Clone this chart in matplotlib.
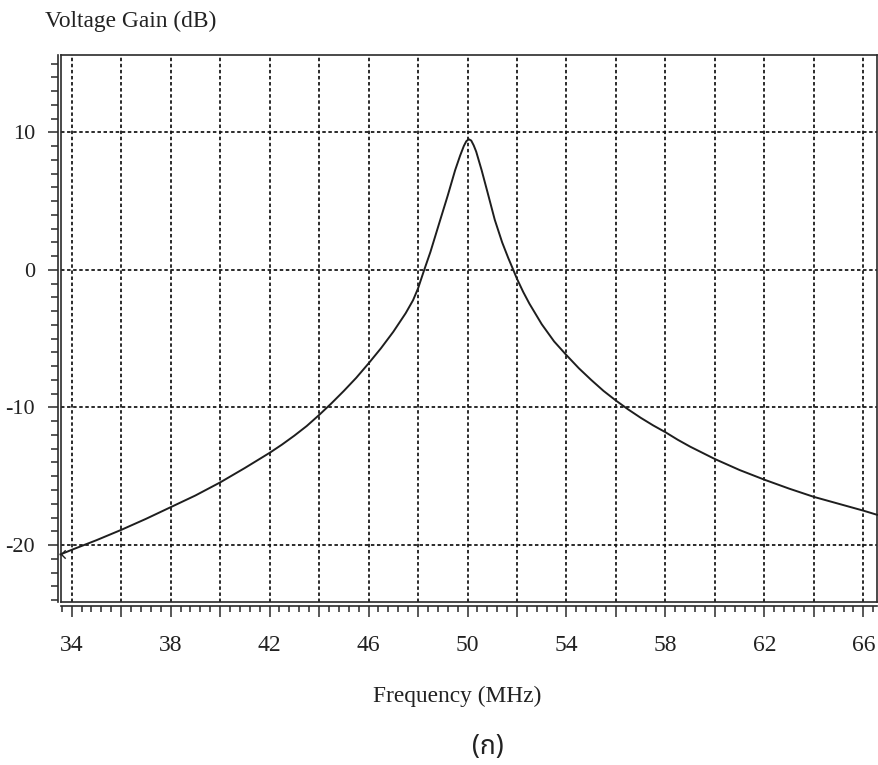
import matplotlib
matplotlib.use("Agg")
import matplotlib.pyplot as plt
from matplotlib.ticker import MultipleLocator, FixedLocator, FuncFormatter

# Frequency response of the tuned amplifier
freq_mhz = [33.55, 34, 35, 36, 37, 38, 39, 40, 41, 42, 42.5, 43, 43.5, 44, 44.5,
            45, 45.5, 46, 46.5, 47, 47.5, 47.8, 48.0, 48.25, 48.5, 48.9, 49.2,
            49.5, 49.7, 49.85, 49.95, 50.05, 50.15, 50.25, 50.35, 50.57, 50.8,
            51.1, 51.4, 51.65, 51.85, 52, 52.25, 52.5, 53, 53.5, 54, 54.5, 55,
            55.5, 56, 56.5, 57, 57.5, 58, 58.5, 59, 59.5, 60, 61, 62, 63, 64, 65,
            66, 66.55]
gain_db = [-20.68, -20.35, -19.65, -18.9, -18.1, -17.25, -16.4, -15.45, -14.4,
           -13.3, -12.7, -12.05, -11.35, -10.55, -9.7, -8.8, -7.85, -6.8, -5.7,
           -4.5, -3.15, -2.2, -1.35, 0.0, 1.3, 3.65, 5.4, 7.25, 8.3, 9.0, 9.35,
           9.5, 9.4, 9.05, 8.6, 7.25, 5.7, 3.65, 2.0, 0.85, 0.0, -0.65, -1.6,
           -2.45, -3.95, -5.2, -6.2, -7.15, -8.0, -8.8, -9.5, -10.15, -10.75,
           -11.3, -11.8, -12.35, -12.85, -13.3, -13.75, -14.55, -15.25, -15.9,
           -16.5, -17.0, -17.5, -17.8]

x_labels = [34, 38, 42, 46, 50, 54, 58, 62, 66]
y_labels = [-20, -10, 0, 10]

SERIF = "Liberation Serif"
INK = "#1e1e1e"

W, H = 879, 765
fig = plt.figure(figsize=(W / 100, H / 100), dpi=100)
left, right, top, bottom = 61, 877, 55, 602
ax = fig.add_axes([left / W, 1 - bottom / H, (right - left) / W, (bottom - top) / H])

ax.set_xlim(33.57, 66.55)
ax.set_ylim(-24.14, 15.62)

# response trace with the small start cursor
ax.plot(freq_mhz, gain_db, color=INK, lw=1.4, zorder=3, clip_on=False,
        solid_joinstyle="round")
ax.plot(freq_mhz[:1], gain_db[:1], color=INK, lw=0,
        marker=[(1, 1), (0, 0), (1, -1)], markersize=6, markeredgewidth=1.0,
        fillstyle="none", zorder=3, clip_on=False)

grid_kw = dict(color="#111111", lw=1.25, ls=(0, (2.0, 1.5)))
ax.xaxis.set_major_locator(MultipleLocator(2))
ax.xaxis.set_minor_locator(MultipleLocator(0.4))
ax.yaxis.set_major_locator(FixedLocator(y_labels))
ax.yaxis.set_minor_locator(MultipleLocator(1))
ax.grid(True, which="major", **grid_kw)

ax.xaxis.set_major_formatter(
    FuncFormatter(lambda v, p: f"{v:.0f}" if round(v) in x_labels else ""))
ax.yaxis.set_major_formatter(FuncFormatter(lambda v, p: f"{v:.0f}"))

spine_col = "#2a2a2a"
for s in ax.spines.values():
    s.set_color(spine_col)
    s.set_linewidth(1.2)
ax.spines["left"].set_position(("outward", 2.2))
ax.spines["bottom"].set_position(("outward", 2.6))
# inner frame lines next to the offset axes
ax.plot([0, 0], [0, 1], transform=ax.transAxes, color=spine_col, lw=1.2, clip_on=False)
ax.plot([0, 1], [0, 0], transform=ax.transAxes, color=spine_col, lw=1.2, clip_on=False)

ax.tick_params(axis="y", which="major", direction="out", length=7.5, width=1.1,
               color=spine_col, pad=9, labelsize=16, labelcolor="#222222")
ax.tick_params(axis="y", which="minor", direction="out", length=5, width=1.1,
               color=spine_col)
ax.tick_params(axis="x", which="major", direction="out", length=8, width=1.1,
               color=spine_col, pad=13, labelsize=17, labelcolor="#222222")
ax.tick_params(axis="x", which="minor", direction="out", length=4.3, width=1.1,
               color=spine_col)
for lab in ax.get_xticklabels() + ax.get_yticklabels():
    lab.set_fontfamily(SERIF)

fig.text(45 / W, 1 - 21 / H, "Voltage Gain (dB)", ha="left", va="center",
         fontsize=16.8, family=SERIF, color="#222222")
fig.text(457 / W, 1 - 696 / H, "Frequency (MHz)", ha="center", va="center",
         fontsize=16.8, family=SERIF, color="#222222")
fig.text(488 / W, 1 - 747 / H, "(ก)", ha="center", va="center", fontsize=19,
         family=["Noto Sans Thai", "Noto Sans", "DejaVu Sans"], color="#222222")

fig.savefig("out.png", dpi=100)
